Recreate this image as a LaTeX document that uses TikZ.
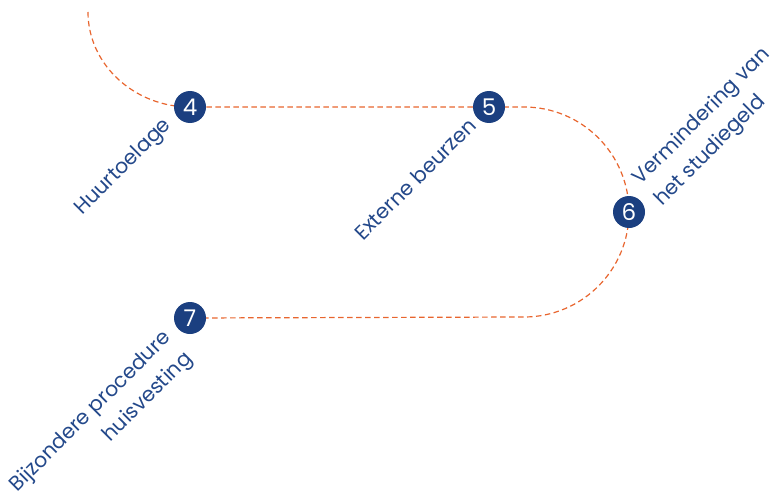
\documentclass[tikz,border=0pt]{standalone}
\usepackage{fontspec}
\setmainfont{Poppins}
\usetikzlibrary{backgrounds}
\definecolor{navy}{HTML}{1B3F80}
\definecolor{labelblue}{HTML}{23488A}
\definecolor{route}{HTML}{E8652E}
\begin{document}
\begin{tikzpicture}[x=1pt,y=1pt,
  stepnum/.style={circle,fill=navy,text=white,minimum size=32pt,inner sep=0pt,font=\fontsize{23}{23}\selectfont},
  steplabel/.style={text=labelblue,rotate=45,inner sep=0pt,font=\fontsize{20.5}{30}\selectfont},
  routeline/.style={draw=route,line width=1.2pt,dash pattern=on 5.5pt off 3.5pt}]
\useasboundingbox (0,0) rectangle (782,-503);
\coordinate (start) at (88,-12);
\coordinate (top) at (524,-107);
\node[stepnum] (n4) at (190,-107) {4};
\node[stepnum] (n5) at (489,-107) {5};
\node[stepnum] (n6) at (629,-212) {6};
\node[stepnum] (n7) at (190,-318) {7};
\begin{scope}[on background layer]
\draw[routeline] (start) .. controls (88,-65) and (135,-107) .. (n4.center) -- (n5.center) -- (top)
  arc[start angle=90,end angle=-90,radius=105] -- (n7.center);
\end{scope}
\node[steplabel,anchor=south east] (l4) at (176,-130) {Huurtoelage};
\node[steplabel,anchor=south east] (l5) at (478,-127) {Externe beurzen};
\node[steplabel,anchor=south west,align=left] (l6) at (666,-211) {Vermindering van\\het studiegeld};
\node[steplabel,anchor=south east,align=right] (l7) at (197,-364) {Bijzondere procedure\\huisvesting};
\end{tikzpicture}
\end{document}
